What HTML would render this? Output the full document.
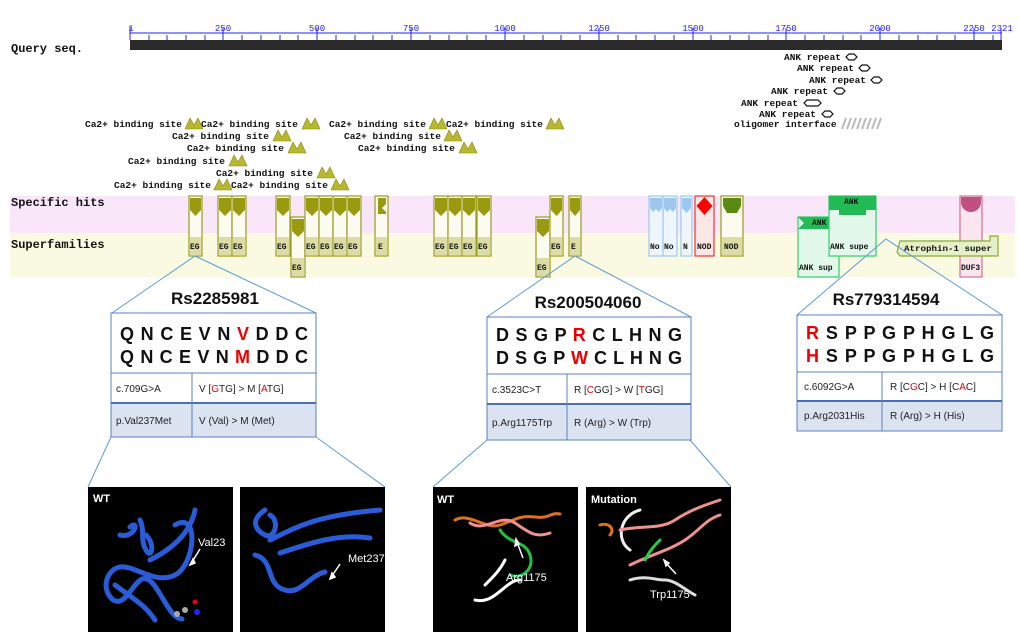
<!DOCTYPE html>
<html><head><meta charset="utf-8"><style>
body{margin:0;background:#fff;}
svg{display:block;}
.m{font-family:"Liberation Mono",monospace;font-size:9.5px;font-weight:bold;fill:#111;}
.b{font-family:"Liberation Mono",monospace;font-size:12px;font-weight:bold;fill:#111;}
.t{font-family:"Liberation Mono",monospace;font-size:8px;font-weight:bold;fill:#111;}
.r{font-family:"Liberation Mono",monospace;font-size:9px;fill:#22f;}
.s{font-family:"Liberation Sans",sans-serif;font-size:18px;font-weight:bold;fill:#111;}
.h{font-family:"Liberation Sans",sans-serif;font-size:17px;font-weight:bold;fill:#111;}
.c{font-family:"Liberation Sans",sans-serif;font-size:10px;fill:#222;}
.w{font-family:"Liberation Sans",sans-serif;font-size:11px;fill:#fff;}
.wb{font-family:"Liberation Sans",sans-serif;font-size:11px;font-weight:bold;fill:#fff;}
</style></head><body>
<svg width="1020" height="639" viewBox="0 0 1020 639" xmlns="http://www.w3.org/2000/svg">
<g class="r" text-anchor="middle">
<text x="131" y="31">1</text><text x="223" y="31">250</text><text x="317" y="31">500</text><text x="411" y="31">750</text><text x="505" y="31">1000</text><text x="599" y="31">1250</text><text x="693" y="31">1500</text><text x="786" y="31">1750</text><text x="880" y="31">2000</text><text x="974" y="31">2250</text><text x="1002" y="31">2321</text>
</g>
<g stroke="#22f" stroke-width="1">
<line x1="130" y1="33" x2="1002" y2="33"/>
<path d="M130 27V40M223 28V40M317 28V40M411 28V40M505 28V40M599 28V40M693 28V40M786 28V40M880 28V40M974 28V40M1001 28V40
M149 35V40M167 35V40M186 35V40M205 35V40M242 35V40M261 35V40M280 35V40M298 35V40M336 35V40M355 35V40M373 35V40M392 35V40M430 35V40M449 35V40M467 35V40M486 35V40M524 35V40M543 35V40M561 35V40M580 35V40M618 35V40M636 35V40M655 35V40M674 35V40M711 35V40M730 35V40M749 35V40M768 35V40M805 35V40M824 35V40M843 35V40M861 35V40M899 35V40M918 35V40M937 35V40M955 35V40M993 35V40"/>
</g>
<rect x="130" y="40" width="872" height="10" fill="#2a2a2a"/>
<text class="b" x="11" y="52">Query seq.</text>
<g class="m">
<text x="784" y="60">ANK repeat</text><text x="797" y="71">ANK repeat</text><text x="809" y="83">ANK repeat</text><text x="771" y="94">ANK repeat</text><text x="741" y="106">ANK repeat</text><text x="759" y="117">ANK repeat</text><text x="734" y="127">oligomer interface</text>
</g>
<g fill="none" stroke="#111" stroke-width="1.2">
<path d="M846 57l3-3h5l3 3-3 3h-5z"/><path d="M859 68l3-3h5l3 3-3 3h-5z"/><path d="M871 80l3-3h5l3 3-3 3h-5z"/><path d="M834 91l3-3h5l3 3-3 3h-5z"/><path d="M804 103l3-3h11l3 3-3 3h-11z"/><path d="M822 114l3-3h5l3 3-3 3h-5z"/>
</g>
<g stroke="#bbb" stroke-width="2"><path d="M842 129l4-11M847 129l4-11M852 129l4-11M857 129l4-11M862 129l4-11M867 129l4-11M872 129l4-11M877 129l4-11"/></g>
<g class="m">
<text x="85" y="127">Ca2+ binding site</text><text x="201" y="127">Ca2+ binding site</text><text x="329" y="127">Ca2+ binding site</text><text x="446" y="127">Ca2+ binding site</text>
<text x="172" y="139">Ca2+ binding site</text><text x="344" y="139">Ca2+ binding site</text>
<text x="187" y="151">Ca2+ binding site</text><text x="358" y="151">Ca2+ binding site</text>
<text x="128" y="164">Ca2+ binding site</text>
<text x="216" y="176">Ca2+ binding site</text>
<text x="114" y="188">Ca2+ binding site</text><text x="231" y="188">Ca2+ binding site</text>
</g>
<g fill="#b8b830" stroke="#888810" stroke-width="0.6">
<path d="M185 129l5-11 4 7 4-7 5 11z"/><path d="M302 129l5-11 4 7 4-7 5 11z"/><path d="M429 129l5-11 4 7 4-7 5 11z"/><path d="M546 129l5-11 4 7 4-7 5 11z"/>
<path d="M273 141l5-11 4 7 4-7 5 11z"/><path d="M444 141l5-11 4 7 4-7 5 11z"/>
<path d="M288 153l5-11 4 7 4-7 5 11z"/><path d="M459 153l5-11 4 7 4-7 5 11z"/>
<path d="M229 166l5-11 4 7 4-7 5 11z"/>
<path d="M317 178l5-11 4 7 4-7 5 11z"/>
<path d="M214 190l5-11 4 7 4-7 5 11z"/><path d="M331 190l5-11 4 7 4-7 5 11z"/>
</g>
<rect x="10" y="196" width="1005" height="37" fill="#f9e6f9"/>
<rect x="10" y="233" width="1005" height="44" fill="#fafae2"/>
<text class="b" x="11" y="206">Specific hits</text>
<text class="b" x="11" y="248">Superfamilies</text>
<g>
<g fill="#fbfbf0" stroke="#9a9a20" stroke-width="1.2">
<rect x="189" y="196" width="13" height="60"/><rect x="218" y="196" width="14" height="60"/><rect x="232" y="196" width="14" height="60"/>
<rect x="276" y="196" width="14" height="60"/><rect x="291" y="217" width="14" height="60"/><rect x="305" y="196" width="14" height="60"/>
<rect x="319" y="196" width="14" height="60"/><rect x="333" y="196" width="14" height="60"/><rect x="347" y="196" width="14" height="60"/>
<rect x="375" y="196" width="13" height="60"/><rect x="434" y="196" width="14" height="60"/><rect x="448" y="196" width="14" height="60"/>
<rect x="462" y="196" width="14" height="60"/><rect x="477" y="196" width="14" height="60"/><rect x="536" y="217" width="14" height="60"/>
<rect x="550" y="196" width="13" height="60"/><rect x="569" y="196" width="12" height="60"/><rect x="721" y="196" width="22" height="60"/>
</g>
<g fill="#dcdca4">
<rect x="190" y="237" width="11" height="18"/><rect x="219" y="237" width="12" height="18"/><rect x="233" y="237" width="12" height="18"/>
<rect x="277" y="237" width="12" height="18"/><rect x="292" y="258" width="12" height="18"/><rect x="306" y="237" width="12" height="18"/>
<rect x="320" y="237" width="12" height="18"/><rect x="334" y="237" width="12" height="18"/><rect x="348" y="237" width="12" height="18"/>
<rect x="376" y="237" width="11" height="18"/><rect x="435" y="237" width="12" height="18"/><rect x="449" y="237" width="12" height="18"/>
<rect x="463" y="237" width="12" height="18"/><rect x="478" y="237" width="12" height="18"/><rect x="537" y="258" width="12" height="18"/>
<rect x="551" y="237" width="11" height="18"/><rect x="570" y="237" width="10" height="18"/><rect x="722" y="237" width="20" height="18"/>
</g>
<g fill="#9a9a10">
<path d="M190 198h11v12l-5.5 6-5.5-6z"/><path d="M219 198h12v12l-6 6-6-6z"/><path d="M233 198h12v12l-6 6-6-6z"/>
<path d="M277 198h12v12l-6 6-6-6z"/><path d="M292 219h12v12l-6 6-6-6z"/><path d="M306 198h12v12l-6 6-6-6z"/>
<path d="M320 198h12v12l-6 6-6-6z"/><path d="M334 198h12v12l-6 6-6-6z"/><path d="M348 198h12v12l-6 6-6-6z"/>
<path d="M378 198h8v6l-4 4 4 4v2h-8z"/><path d="M435 198h12v12l-6 6-6-6z"/><path d="M449 198h12v12l-6 6-6-6z"/>
<path d="M463 198h12v12l-6 6-6-6z"/><path d="M478 198h12v12l-6 6-6-6z"/><path d="M537 219h12v12l-6 6-6-6z"/>
<path d="M551 198h11v12l-5.5 6-5.5-6z"/><path d="M570 198h10v12l-5 6-5-6z"/>
</g>
<path d="M723 198h18v8l-4 7h-10l-4-7z" fill="#5a8a10"/>
<g class="t">
<text x="190" y="249">EG</text><text x="219" y="249">EG</text><text x="233" y="249">EG</text><text x="277" y="249">EG</text><text x="292" y="270">EG</text>
<text x="306" y="249">EG</text><text x="320" y="249">EG</text><text x="334" y="249">EG</text><text x="348" y="249">EG</text><text x="378" y="249">E</text>
<text x="435" y="249">EG</text><text x="449" y="249">EG</text><text x="463" y="249">EG</text><text x="478" y="249">EG</text><text x="537" y="270">EG</text>
<text x="551" y="249">EG</text><text x="571" y="249">E</text><text x="724" y="249">NOD</text>
</g>
</g>
<g fill="#eef6fc" stroke="#9cc8f0" stroke-width="1.2">
<rect x="649" y="196" width="14" height="60"/><rect x="663" y="196" width="14" height="60"/><rect x="681" y="196" width="11" height="60"/>
</g>
<g fill="#9cc8f0"><path d="M650 198h12v10l-3 4-3-3-3 3-3-4z"/><path d="M664 198h12v10l-3 4-3-3-3 3-3-4z"/><path d="M682 198h9v10l-4.5 5-4.5-5z"/></g>
<g class="t"><text x="650" y="249">No</text><text x="664" y="249">No</text><text x="683" y="249">N</text></g>
<rect x="695" y="196" width="19" height="60" fill="#fde6e6" stroke="#e33" stroke-width="1.2"/>
<path d="M704.5 197l8 9-8 9-8-9z" fill="#f00"/>
<text class="t" x="697" y="249">NOD</text>
<rect x="798" y="217" width="41" height="60" fill="#e2f8ea" stroke="#33cc66" stroke-width="1.2"/>
<path d="M798 217h34v12h-34l6-6z" fill="#22bb55"/>
<text class="t" x="812" y="225" fill="#fff">ANK</text>
<rect x="829" y="196" width="47" height="60" fill="#e2f8ea" stroke="#33cc66" stroke-width="1.2"/>
<path d="M829 196h47v14h-10v5h-27v-5h-10z" fill="#22bb55"/>
<text class="t" x="844" y="204" fill="#fff">ANK</text>
<text class="t" x="799" y="270">ANK sup</text>
<text class="t" x="830" y="249">ANK supe</text>
<rect x="960" y="196" width="22" height="81" fill="#fbe6f0" stroke="#d07090" stroke-width="1.2"/>
<path d="M961 197h20v5a10 10 0 0 1-20 0z" fill="#c05080"/>
<text class="t" x="961" y="270">DUF3</text>
<path d="M900 241h90v-5h8v20h-98l-3-4z" fill="#e6f0c8" stroke="#88aa33" stroke-width="1.2"/>
<text class="t" x="904" y="251" textLength="88" lengthAdjust="spacingAndGlyphs">Atrophin-1 super</text>
<g stroke="#5b9bd5" stroke-width="1" fill="none">
<path d="M112 313L195 256L316 313"/>
<path d="M487 317L575 256L691 317"/>
<path d="M797 315L886 239L1002 315"/>
<path d="M111 437L88 487M316 437L385 487M487 440L433 487M690 440L731 487"/>
</g>
<text class="h" x="215" y="304" text-anchor="middle">Rs2285981</text>
<rect x="111" y="313" width="205" height="124" fill="#fff"/>
<rect x="111" y="403" width="205" height="34" fill="#dbe2f0"/>
<rect x="111" y="313" width="205" height="124" fill="none" stroke="#5b80c0"/>
<line x1="111" y1="373" x2="316" y2="373" stroke="#5b80c0"/>
<line x1="111" y1="403" x2="316" y2="403" stroke="#4a70b0" stroke-width="2"/>
<line x1="192" y1="373" x2="192" y2="437" stroke="#5b80c0"/>
<g class="s"><text x="120" y="340" textLength="188" lengthAdjust="spacing">Q N C E V N <tspan fill="#e00">V</tspan> D D C</text><text x="120" y="363" textLength="188" lengthAdjust="spacing">Q N C E V N <tspan fill="#e00">M</tspan> D D C</text></g>
<text class="c" x="116" y="392">c.709G&gt;A</text>
<text class="c" x="199" y="392">V [<tspan fill="#e00">G</tspan>TG] &gt; M [<tspan fill="#e00">A</tspan>TG]</text>
<text class="c" x="116" y="424">p.Val237Met</text>
<text class="c" x="199" y="424">V (Val) &gt; M (Met)</text>

<text class="h" x="588" y="308" text-anchor="middle">Rs200504060</text>
<rect x="487" y="317" width="204" height="123" fill="#fff"/>
<rect x="487" y="404" width="204" height="36" fill="#dbe2f0"/>
<rect x="487" y="317" width="204" height="123" fill="none" stroke="#5b80c0"/>
<line x1="487" y1="374" x2="691" y2="374" stroke="#5b80c0"/>
<line x1="487" y1="404" x2="691" y2="404" stroke="#4a70b0" stroke-width="2"/>
<line x1="567" y1="374" x2="567" y2="440" stroke="#5b80c0"/>
<g class="s"><text x="496" y="341" textLength="186" lengthAdjust="spacing">D S G P <tspan fill="#e00">R</tspan> C L H N G</text><text x="496" y="364" textLength="186" lengthAdjust="spacing">D S G P <tspan fill="#e00">W</tspan> C L H N G</text></g>
<text class="c" x="492" y="393">c.3523C&gt;T</text>
<text class="c" x="574" y="393">R [<tspan fill="#e00">C</tspan>GG] &gt; W [<tspan fill="#e00">T</tspan>GG]</text>
<text class="c" x="492" y="426">p.Arg1175Trp</text>
<text class="c" x="574" y="426">R (Arg) &gt; W (Trp)</text>

<text class="h" x="886" y="305" text-anchor="middle">Rs779314594</text>
<rect x="797" y="315" width="205" height="116" fill="#fff"/>
<rect x="797" y="401" width="205" height="30" fill="#dbe2f0"/>
<rect x="797" y="315" width="205" height="116" fill="none" stroke="#5b80c0"/>
<line x1="797" y1="372" x2="1002" y2="372" stroke="#5b80c0"/>
<line x1="797" y1="401" x2="1002" y2="401" stroke="#4a70b0" stroke-width="2"/>
<line x1="882" y1="372" x2="882" y2="431" stroke="#5b80c0"/>
<g class="s"><text x="806" y="339" textLength="188" lengthAdjust="spacing"><tspan fill="#e00">R</tspan> S P P G P H G L G</text><text x="806" y="362" textLength="188" lengthAdjust="spacing"><tspan fill="#e00">H</tspan> S P P G P H G L G</text></g>
<text class="c" x="804" y="390">c.6092G&gt;A</text>
<text class="c" x="890" y="390">R [C<tspan fill="#e00">G</tspan>C] &gt; H [C<tspan fill="#e00">A</tspan>C]</text>
<text class="c" x="804" y="419">p.Arg2031His</text>
<text class="c" x="890" y="419">R (Arg) &gt; H (His)</text>

<rect x="88" y="487" width="145" height="145" fill="#000"/>
<rect x="240" y="487" width="145" height="145" fill="#000"/>
<rect x="433" y="487" width="145" height="145" fill="#000"/>
<rect x="586" y="487" width="145" height="145" fill="#000"/>
<text class="wb" x="93" y="502">WT</text>
<text class="wb" x="437" y="503">WT</text>
<text class="wb" x="591" y="503">Mutation</text>
<g fill="none" stroke="#2a5cd8" stroke-width="5" stroke-linecap="round">
<path d="M130 527c10-8 5 12-10 8M140 520c5 10 0 20 6 30 5 10 10-5 0-15M175 525c25-15 20 40 0 50-20 10-40-10-55-8-12 2-20 20-8 32 12 10 20-15 30-20 15-5 25 40 40 40"/>
<path d="M150 560c20-10 40-25 45-50M115 585c20 15 30 20 40 35"/>
<path d="M265 510c-15 10-10 20 0 25s15-15 5-20M270 540c30-15 50-25 110-30M280 553c30-10 60-20 90-15M255 555c20 5 10 30 30 35 15 5 25-15 40-18"/>
</g>
<g fill="none" stroke-width="3" stroke-linecap="round">
<path d="M455 520c15-8 30 10 45 5s20-10 35-8 15-5 25-3" stroke="#e07020"/>
<path d="M470 523c15 10 30-10 45 0s20 15 35 10" stroke="#f09090"/>
<path d="M500 530c10 15 25 10 30 25s-10 25-20 20" stroke="#20c040"/>
<path d="M485 585c10-10 15-15 20-25M475 600c20 5 30-20 45-20" stroke="#fff"/>
<path d="M640 510c-20 5-25 30-10 40" stroke="#eee"/>
<path d="M620 530c20-5 40 0 55-10s30-15 45-20" stroke="#f09090"/>
<path d="M630 565c20-10 40-15 55-25s20-20 35-25" stroke="#f09090"/>
<path d="M645 560c5-10 10-15 15-20" stroke="#20d040"/>
<path d="M630 580c15-5 25 0 35 0s20 10 30 15" stroke="#ddd"/>
<path d="M600 525c10-3 15 5 10 10" stroke="#e07020"/>
</g>
<g stroke="#fff" stroke-width="1.5" fill="#fff">
<path d="M200 549l-8 13"/><path d="M190 565l3-6 2 4z"/>
<path d="M340 564l-8 12"/><path d="M330 579l2-6 3 4z"/>
<path d="M523 558l-6-16"/><path d="M516 539l-1 7 4-2z"/>
<path d="M676 574l-10-11"/><path d="M664 560l2 6 3-3z"/>
</g>
<text class="w" x="198" y="546">Val23</text>
<text class="w" x="348" y="562">Met237</text>
<text class="w" x="506" y="581">Arg1175</text>
<text class="w" x="650" y="598">Trp1175</text>
<circle cx="177" cy="614" r="3" fill="#aaa"/><circle cx="185" cy="610" r="3" fill="#aaa"/><circle cx="197" cy="612" r="3" fill="#22f"/><circle cx="195" cy="602" r="2.5" fill="#e00"/>
</svg>
</body></html>
